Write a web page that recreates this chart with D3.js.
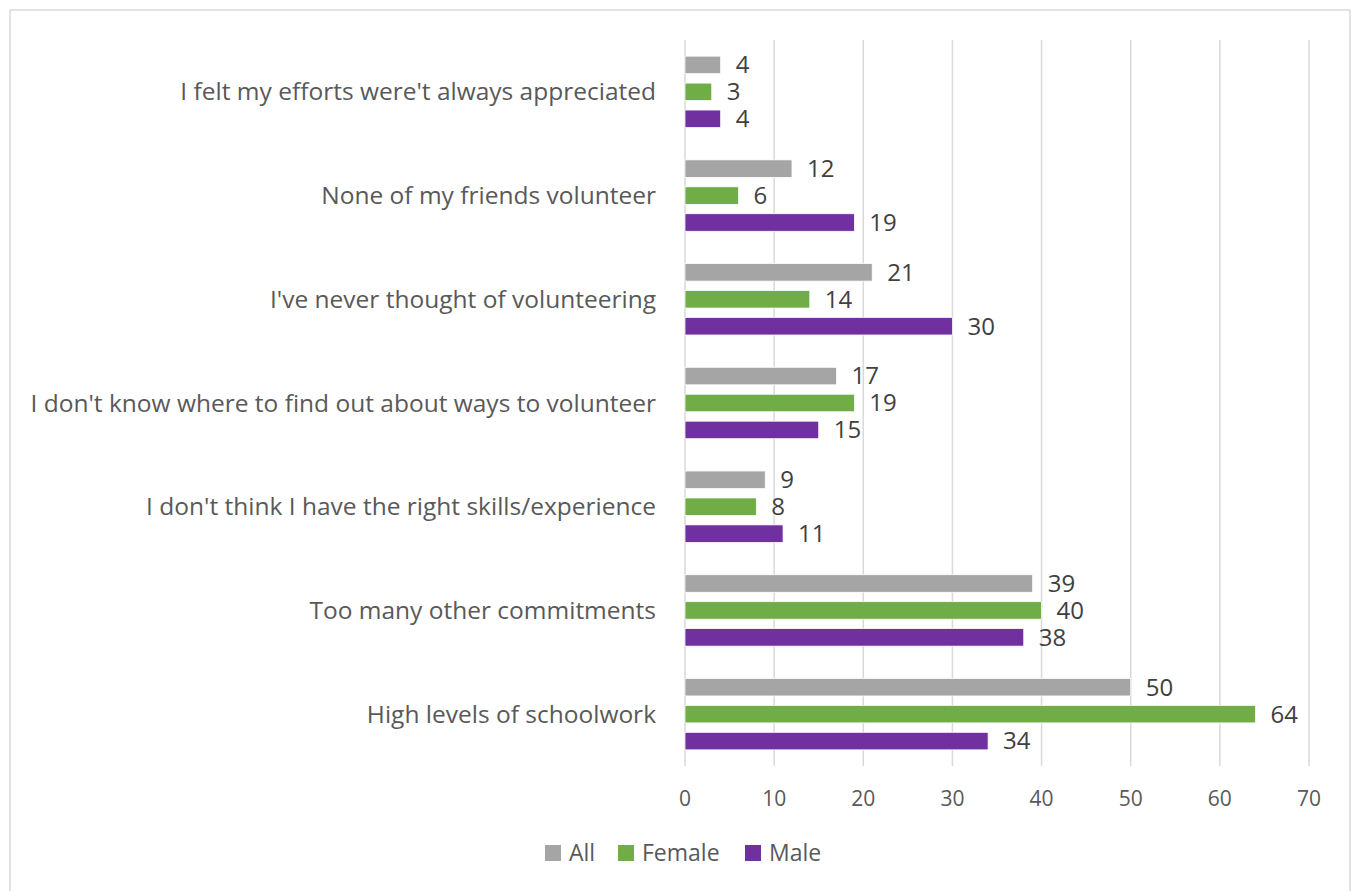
<!DOCTYPE html>
<html>
<head>
<meta charset="utf-8">
<script src="https://cdn.jsdelivr.net/npm/d3@7"></script>
<style>
  body { margin: 0; background: #fff; }
  text { font-family: "Open Sans", "Noto Sans", sans-serif; }
</style>
</head>
<body>
<div id="chart"></div>
<script>
const categories = [
  "I felt my efforts were't always appreciated",
  "None of my friends volunteer",
  "I've never thought of volunteering",
  "I don't know where to find out about ways to volunteer",
  "I don't think I have the right skills/experience",
  "Too many other commitments",
  "High levels of schoolwork"
]
const series = ["All", "Female", "Male"]
const allValues = [4, 12, 21, 17, 9, 39, 50]
const femaleValues = [3, 6, 14, 19, 8, 40, 64]
const maleValues = [4, 19, 30, 15, 11, 38, 34]
const xTicks = [0, 10, 20, 30, 40, 50, 60, 70]
const colors = ["#a5a5a5", "#70ad47", "#7030a0"]

const width = 1357, height = 891
const margin = {top: 40, right: 48, bottom: 125, left: 685}

const svg = d3.select('#chart').append('svg')
    .attr('width', width)
    .attr('height', height)

// chart border
svg.append('rect')
    .attr('x', 10).attr('y', 10)
    .attr('width', 1340).attr('height', 900)
    .attr('fill', 'none')
    .attr('stroke', '#d9d9d9')
    .attr('stroke-width', 1.5)

const x = d3.scaleLinear()
    .domain([0, 70])
    .range([margin.left, width - margin.right])

const y = d3.scaleBand()
    .domain(categories)
    .range([margin.top, height - margin.bottom])

const inner = d3.scaleBand()
    .domain(series)
    .range([0, y.bandwidth()])
    .paddingInner(0.35)
    .paddingOuter(0.6)

// gridlines
svg.append('g')
    .selectAll('line')
    .data(xTicks)
    .join('line')
    .attr('x1', d => x(d)).attr('x2', d => x(d))
    .attr('y1', margin.top).attr('y2', height - margin.bottom)
    .attr('stroke', '#d9d9d9')
    .attr('stroke-width', 1.5)

// x tick labels
svg.append('g')
    .selectAll('text')
    .data(xTicks)
    .join('text')
    .attr('x', d => x(d))
    .attr('y', 799)
    .attr('dy', '0.35em')
    .attr('text-anchor', 'middle')
    .attr('font-size', 21)
    .attr('fill', '#595959')
    .text(d => d)

// category labels
svg.append('g')
    .selectAll('text')
    .data(categories)
    .join('text')
    .attr('x', margin.left - 29)
    .attr('y', d => y(d) + y.bandwidth() / 2)
    .attr('dy', '0.35em')
    .attr('text-anchor', 'end')
    .attr('font-size', 24.5)
    .attr('fill', '#595959')
    .text(d => d)

const rows = categories.map((c, i) => ({
  category: c,
  values: [allValues[i], femaleValues[i], maleValues[i]].map((v, j) => ({key: series[j], value: v, color: colors[j]}))
}))

const groups = svg.append('g')
    .selectAll('g')
    .data(rows)
    .join('g')
    .attr('transform', d => `translate(0,${y(d.category)})`)

groups.selectAll('rect')
    .data(d => d.values)
    .join('rect')
    .attr('x', x(0))
    .attr('y', d => inner(d.key))
    .attr('width', d => x(d.value) - x(0))
    .attr('height', inner.bandwidth())
    .attr('fill', d => d.color)
    .attr('stroke', '#fff')
    .attr('stroke-width', 0.75)

groups.selectAll('text')
    .data(d => d.values)
    .join('text')
    .attr('x', d => x(d.value) + 15)
    .attr('y', d => inner(d.key) + inner.bandwidth() / 2)
    .attr('dy', '0.35em')
    .attr('font-size', 24)
    .attr('fill', '#404040')
    .text(d => d.value)

// legend
const legendX = [545, 618, 745]
const legend = svg.append('g')
    .selectAll('g')
    .data(series)
    .join('g')
    .attr('transform', (d, i) => `translate(${legendX[i]},853)`)
legend.append('rect')
    .attr('x', 0).attr('y', -8)
    .attr('width', 16).attr('height', 16)
    .attr('fill', (d, i) => colors[i])
legend.append('text')
    .attr('x', 24)
    .attr('dy', '0.35em')
    .attr('font-size', 23)
    .attr('fill', '#595959')
    .text(d => d)
</script>
</body>
</html>
